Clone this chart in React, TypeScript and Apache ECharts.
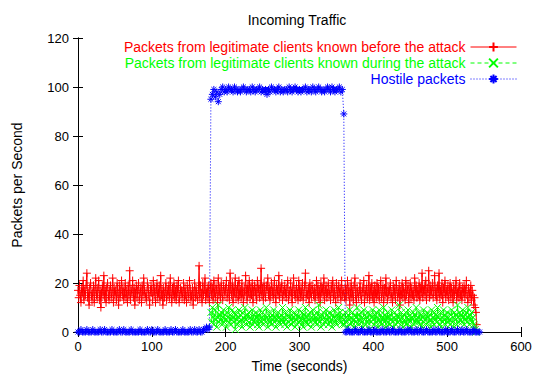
import React, { useEffect, useRef } from "react";
import * as echarts from "echarts";

const redStart = 0;
const redStep = 1;
const redValues = [
  17,14,19,15,12,18,16,21,13,17,15,19,24,14,16,11,18,20,15,13,
  16,19,12,17,22,15,14,18,21,13,17,10,16,19,15,23,14,17,12,18,
  20,15,13,17,19,14,16,22,12,18,15,17,13,20,16,11,19,14,17,21,
  15,18,13,16,20,14,17,12,19,15,25,13,17,16,21,14,18,11,16,19,
  14,17,20,13,16,18,12,19,15,22,17,14,16,13,20,18,15,11,17,19,
  16,13,21,15,18,12,17,20,14,16,19,13,23,15,17,11,18,14,16,20,
  13,17,15,19,14,22,16,12,18,15,20,14,17,13,19,16,21,12,15,18,
  17,14,16,20,13,18,15,12,19,16,14,21,17,13,15,18,11,16,20,14,
  18,15,13,17,27,14,19,16,12,20,15,17,22,13,16,18,14,19,12,17,
  20,15,18,13,21,16,14,19,17,12,22,15,18,14,20,16,13,19,17,15,
  18,21,14,16,19,13,24,17,15,20,12,18,16,22,14,17,19,13,21,15,
  17,14,20,16,12,18,15,23,17,13,19,16,21,14,18,15,20,12,17,19,
  15,18,13,21,16,19,14,17,26,15,18,13,20,16,14,19,17,22,15,18,
  13,17,20,15,18,14,21,16,12,19,17,15,23,14,18,16,20,13,17,15,
  19,16,14,18,21,13,17,15,20,16,12,18,22,15,17,14,19,16,13,21,
  17,14,18,15,20,13,16,19,24,14,17,15,18,12,20,16,14,19,17,15,
  18,13,16,21,15,19,14,17,12,20,16,18,15,22,13,17,19,14,16,20,
  15,17,13,19,16,21,14,18,15,12,20,17,14,19,16,18,13,21,15,17,
  16,14,19,13,17,21,15,18,11,16,20,14,17,13,19,22,15,12,18,16,
  14,17,20,15,13,18,16,21,12,17,15,19,14,16,23,13,18,15,20,14,
  17,12,19,16,14,20,15,18,13,17,21,14,16,19,12,18,15,22,16,13,
  18,15,17,20,14,16,12,19,15,18,13,21,17,14,16,19,11,17,15,20,
  14,18,16,13,21,15,17,19,12,16,20,14,18,15,17,13,22,16,19,14,
  17,15,20,13,18,16,24,14,17,19,15,21,13,18,16,25,14,19,15,17,
  20,14,17,23,15,18,13,19,16,24,14,17,15,20,12,18,16,21,14,17,
  15,19,13,17,20,14,18,16,12,19,15,17,21,13,16,18,14,20,15,17,
  13,18,16,19,14,17,21,15,12,18,16,14,19,13,17,15,11,14,10,8,
  3,
];

const greenStart = 180;
const greenStep = 1;
const greenValues = [
  8,4,10,6,3,7,9,5,2,6,11,4,7,5,8,3,6,9,4,7,
  5,2,8,6,10,4,7,3,5,9,6,4,8,1,7,5,3,6,9,4,
  7,5,2,8,6,4,10,5,3,7,6,8,4,2,6,5,9,3,7,4,
  5,8,6,3,7,2,5,9,4,6,8,3,5,7,4,10,6,2,5,8,
  4,6,3,7,5,9,4,6,2,7,5,8,4,6,3,7,5,10,4,6,
  3,8,5,2,7,6,4,9,5,3,7,4,6,8,2,5,7,3,6,9,
  4,6,5,3,8,2,7,5,10,4,6,3,7,5,8,4,2,6,9,5,
  7,4,6,3,8,5,11,4,6,2,7,5,8,3,6,4,9,5,7,3,
  6,8,4,5,2,7,6,9,4,5,3,7,6,10,5,8,4,6,3,7,
  5,3,8,4,6,2,7,5,9,3,6,4,8,5,2,7,4,6,10,5,
  3,7,5,8,4,6,2,9,5,7,3,6,4,8,5,1,7,4,6,9,
  5,3,7,4,8,6,2,5,9,4,7,3,6,5,10,4,7,2,6,8,
  4,6,3,7,5,9,4,2,6,8,5,3,7,4,6,11,5,3,8,6,
  2,7,5,4,8,3,6,9,5,4,7,2,6,5,8,3,7,4,10,5,
  6,4,8,3,5,7,2,6,9,4,5,7,3,8,6,4,7,5,2,9,
  4,6,3,8,5,7,4,10,6,3,5,8,2,6,4,9,5,7,3,6,
  8,4,6,5,3,7,9,4,6,2,8,5,7,3,11,6,4,8,5,7,
  4,9,6,3,7,5,8,4,10,6,3,7,5,8,4,6,3,2,1,0,
];

const blueStart = 0;
const blueStep = 2;
const blueValues = [
  0,0,1,0,0,0,1,0,0,0,
  1,0,0,0,0,1,0,0,1,0,
  0,0,0,1,0,0,0,0,1,0,
  0,1,0,0,0,0,1,0,0,0,
  0,0,1,0,0,0,0,1,0,0,
  1,0,0,0,1,0,0,0,0,1,
  0,0,0,1,0,0,1,0,0,0,
  0,1,0,0,0,0,1,0,0,1,
  0,0,1,0,0,1,1,2,1,2,
  95,97,99,96,98,94,97,99,100,98,
  99,98,100,99,99,98,100,99,98,99,
  98,99,100,99,98,99,99,98,100,99,
  98,99,99,100,98,99,98,99,97,99,
  98,100,99,99,98,99,100,98,99,98,
  99,99,98,100,99,98,99,100,99,98,
  99,98,99,99,100,98,99,99,98,100,
  99,98,99,100,99,98,99,98,99,100,
  99,98,100,99,98,99,99,100,98,99,
  89,
  0,0,1,0,0,0,0,1,0,0,
  0,1,0,0,0,0,1,0,0,0,
  1,0,0,0,0,1,0,0,0,1,
  0,0,1,0,0,0,0,1,0,0,
  0,0,1,0,1,0,0,0,1,0,
  0,1,0,0,0,1,0,0,0,0,
  1,0,0,1,0,0,0,0,1,0,
  0,0,1,0,0,0,1,0,0,1,
  0,0,1,0,0,0,0,1,0,0,
  0,0,
];

const seriesNames = [
  "Packets from legitimate clients known before the attack",
  "Packets from legitimate clients known during the attack",
  "Hostile packets",
];
const seriesColors = ["#ff0000", "#00ff00", "#0000ff"];

const xTicks = { min: 0, max: 600, interval: 100 };
const yTicks = { min: 0, max: 120, interval: 20 };

const toPairs = (start: number, step: number, vals: number[]) =>
  vals.map((v, i) => [start + i * step, v]);

const PLUS = "path://M0,5L10,5M5,0L5,10";
const CROSS = "path://M0,0L10,10M10,0L0,10";
const STAR = "path://M0,5L10,5M5,0L5,10M1.5,1.5L8.5,8.5M8.5,1.5L1.5,8.5";

export default function App() {
  const ref = useRef<HTMLDivElement>(null);
  useEffect(() => {
    if (!ref.current) return;
    const chart = echarts.init(ref.current, undefined, { renderer: "svg" });
    const font = "Liberation Sans, Arial, sans-serif";
    const dashes: any[] = ["solid", [4, 3], [1, 2]];
    const mkSeries = (i: number, data: number[][], symbol: string, size: number) => ({
      name: seriesNames[i],
      type: "line",
      data,
      symbol,
      symbolSize: size,
      showSymbol: true,
      showAllSymbol: true,
      lineStyle: { color: seriesColors[i], width: 1, type: dashes[i] },
      itemStyle: { color: seriesColors[i], borderColor: seriesColors[i], borderWidth: 1 },
      emphasis: { disabled: true },
    });
    const axisCommon = {
      axisLine: { show: true, lineStyle: { color: "#000", width: 1 } },
      splitLine: { show: false },
      axisTick: { show: true, inside: true, length: 5, lineStyle: { color: "#000" } },
    };
    chart.setOption({
      animation: false,
      title: {
        text: "Incoming Traffic",
        left: 292,
        top: 8,
        textAlign: "center",
        textStyle: { fontSize: 14, fontWeight: "normal", color: "#000", fontFamily: font },
      },
      legend: {
        orient: "vertical",
        right: 19,
        top: 39,
        padding: 0,
        align: "right",
        itemWidth: 46,
        itemHeight: 11,
        itemGap: 0,
        selectedMode: false,
        textStyle: { fontSize: 14, lineHeight: 16, fontFamily: font, padding: [0, 0, 0, 0] },
        data: seriesNames.map((n, i) => ({
          name: n,
          textStyle: { color: seriesColors[i] },
          lineStyle: { width: 1, type: dashes[i] },
        })),
      },
      grid: { left: 78, right: 15, top: 38, bottom: 46, show: false },
      xAxis: [
        {
          type: "value",
          ...xTicks,
          ...axisCommon,
          name: "Time (seconds)",
          nameLocation: "middle",
          nameGap: 27,
          nameTextStyle: { fontSize: 14, color: "#000", fontFamily: font },
          axisLabel: { color: "#000", fontSize: 13, fontFamily: font, margin: 8 },
        },
        {
          type: "value",
          position: "top",
          ...xTicks,
          ...axisCommon,
          axisLabel: { show: false },
        },
      ],
      yAxis: [
        {
          type: "value",
          ...yTicks,
          ...axisCommon,
          name: "Packets per Second",
          nameLocation: "middle",
          nameGap: 54,
          nameTextStyle: { fontSize: 14, color: "#000", fontFamily: font },
          axisLabel: { color: "#000", fontSize: 13, fontFamily: font, margin: 9 },
        },
        {
          type: "value",
          position: "right",
          ...yTicks,
          ...axisCommon,
          axisLabel: { show: false },
        },
      ],
      series: [
        mkSeries(0, toPairs(redStart, redStep, redValues), PLUS, 8),
        mkSeries(1, toPairs(greenStart, greenStep, greenValues), CROSS, 7),
        mkSeries(2, toPairs(blueStart, blueStep, blueValues), STAR, 7),
      ],
    });
    return () => chart.dispose();
  }, []);
  return <div ref={ref} style={{ width: 536, height: 378, position: "absolute", left: 0, top: 0 }} />;
}
